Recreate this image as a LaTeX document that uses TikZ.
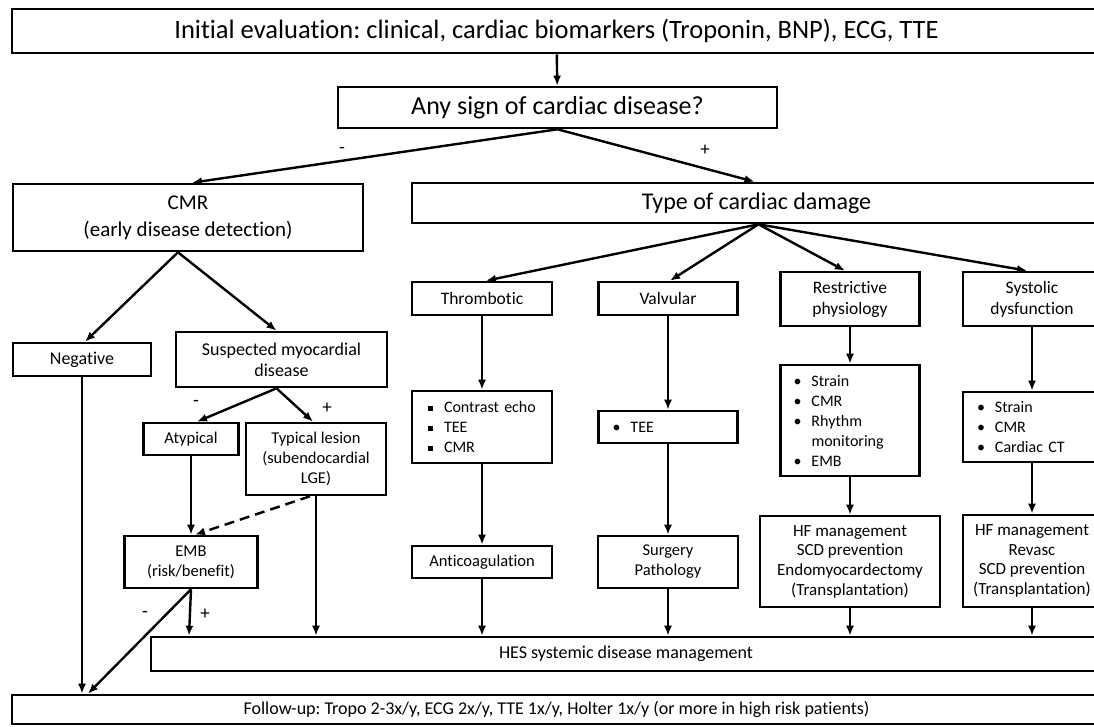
\documentclass[tikz,border=0pt]{standalone}
\usepackage{fontspec}
\setmainfont{Carlito}[Ligatures=NoCommon]
\usetikzlibrary{calc,arrows.meta}
\frenchspacing

\newcommand{\fsz}[2]{\fontsize{#1}{#2}\selectfont}
\newcommand{\blt}{\makebox[18pt][l]{\textbullet}}
\newcommand{\sqb}{\makebox[16pt][l]{\rule[2pt]{4.5pt}{4.5pt}}}

\begin{document}
\begin{tikzpicture}[x=1pt,y=-1pt,>={Latex[length=10pt,width=8pt]},
  box/.style={draw,line width=2.6pt,align=center,inner sep=0pt},
  list/.style={box,align=left,inner xsep=14pt},
  link/.style={->,line width=2.4pt},
  sign/.style={font=\fsz{19}{20}}]
  \useasboundingbox (0,0) rectangle (1094,727);
  % top of the chart
  \node[box,minimum width=1089,minimum height=44,font=\fsz{26.5}{28}] (init) at (556.5,31) {Initial evaluation: clinical, cardiac biomarkers (Troponin, BNP), ECG, TTE};
  \node[box,minimum width=439,minimum height=41,font=\fsz{26}{28}] (anysign) at (557.5,107.5) {Any sign of cardiac disease?};
  \node[box,minimum width=350,minimum height=67,font=\fsz{21}{27}] (cmr) at (188,217.5) {CMR\\(early disease detection)};
  \node[box,minimum width=689,minimum height=40,font=\fsz{24}{28}] (type) at (756.5,203) {Type of cardiac damage};
  % left branch
  \node[box,minimum width=138,minimum height=33,font=\fsz{18}{21}] (neg) at (82,359.5) {Negative};
  \node[box,minimum width=211,minimum height=55,font=\fsz{18}{21}] (susp) at (281.5,359.5) {Suspected myocardial\\disease};
  \node[box,minimum width=95,minimum height=32,font=\fsz{16.5}{20}] (atyp) at (191,439) {Atypical};
  \node[box,minimum width=140,minimum height=72,font=\fsz{16.5}{20}] (typ) at (316,459) {Typical lesion\\(subendocardial\\LGE)};
  \node[box,minimum width=133,minimum height=52,font=\fsz{16.5}{20}] (emb) at (191,562) {EMB\\(risk/benefit)};
  % type of damage
  \node[box,minimum width=140,minimum height=33,font=\fsz{17.5}{21}] (thromb) at (482,298.5) {Thrombotic};
  \node[box,minimum width=139,minimum height=33,font=\fsz{17.5}{21}] (valv) at (668,298.5) {Valvular};
  \node[box,minimum width=139,minimum height=54,font=\fsz{17.5}{21}] (restr) at (850,299) {Restrictive\\physiology};
  \node[box,minimum width=138,minimum height=54,font=\fsz{17.5}{21}] (syst) at (1032,299) {Systolic\\dysfunction};
  % work-up
  \node[list,inner xsep=16pt,text width=108,minimum height=72,font=\fsz{16}{20}] (tlist) at (482,427) {\sqb Contrast echo\\\sqb TEE\\\sqb CMR};
  \node[list,text width=111,minimum height=32,font=\fsz{16}{20}] (vlist) at (668,427) {\blt TEE};
  \node[list,inner xsep=13pt,text width=113,minimum height=111,font=\fsz{16}{20}] (rlist) at (850,420.5) {\blt Strain\\\blt CMR\\\blt Rhythm\\\makebox[18pt]{}monitoring\\\blt EMB};
  \node[list,text width=110,minimum height=70,font=\fsz{16}{20}] (slist) at (1032,427) {\blt Strain\\\blt CMR\\\blt Cardiac CT};
  % treatment
  \node[box,minimum width=140,minimum height=32,font=\fsz{16.5}{20}] (anticoag) at (482,562) {Anticoagulation};
  \node[box,minimum width=140,minimum height=52,font=\fsz{16.5}{20}] (surg) at (668,562) {Surgery\\Pathology};
  \node[box,minimum width=180,minimum height=91,font=\fsz{17}{19.7}] (rmgmt) at (850,561.5) {HF management\\SCD prevention\\Endomyocardectomy\\(Transplantation)};
  \node[box,minimum width=138,minimum height=92,font=\fsz{17}{19.7}] (smgmt) at (1032,561) {HF management\\Revasc\\SCD prevention\\(Transplantation)};
  % bottom
  \node[box,minimum width=950,minimum height=34,font=\fsz{18}{20}] (hes) at (626,654) {HES systemic disease management};
  \node[box,minimum width=1089,minimum height=29,font=\fsz{18}{20}] (follow) at (556.5,709.5) {Follow-up: Tropo 2-3x/y, ECG 2x/y, TTE 1x/y, Holter 1x/y (or more in high risk patients)};

  \draw[link] (init) -- (anysign);
  \draw[link] (anysign.south) -- ([xshift=4pt]cmr.north);
  \draw[link] (anysign.south) -- ([xshift=-2pt]type.north);
  \node[sign] (m1) at (342,150) {-};
  \node[sign] (p1) at (705,150) {+};
  \draw[link] ([xshift=-10pt]cmr.south) -- ([xshift=3pt]neg.north);
  \draw[link] ([xshift=-10pt]cmr.south) -- ([xshift=-5pt]susp.north);
  \draw[link] ([xshift=-5pt]susp.south) -- ([xshift=6pt]atyp.north);
  \draw[link] ([xshift=-5pt]susp.south) -- ([xshift=-3pt]typ.north);
  \node[sign] (m2) at (196,403) {-};
  \node[sign] (p2) at (327,408) {+};
  \draw[link] (atyp) -- (emb);
  \draw[link,dashed,dash pattern=on 10pt off 6pt] ([xshift=-6pt]typ.south) -- ([xshift=4pt]emb.north);
  \draw[link] (typ.south) -- (typ.south |- hes.north);
  \draw[link] (emb.south) -- ([xshift=-2pt]emb.south |- hes.north);
  \draw[link] (emb.south) -- ($(neg.south |- follow.north)+(6,0)$);
  \node[sign] (m3) at (145,614) {-};
  \node[sign] (p3) at (205,614) {+};
  \draw[link] (neg) -- (neg |- follow.north);
  \draw[link] ([xshift=2pt]type.south) -- ([xshift=4pt]thromb.north);
  \draw[link] ([xshift=2pt]type.south) -- ([xshift=2pt]valv.north);
  \draw[link] ([xshift=2pt]type.south) -- ([xshift=-5pt]restr.north);
  \draw[link] ([xshift=2pt]type.south) -- ([xshift=-5pt]syst.north);
  \draw[link] (thromb) -- (tlist);
  \draw[link] (tlist) -- (anticoag);
  \draw[link] (anticoag) -- (anticoag |- hes.north);
  \draw[link] (valv) -- (vlist);
  \draw[link] (vlist) -- (surg);
  \draw[link] (surg) -- (surg |- hes.north);
  \draw[link] (restr) -- (rlist);
  \draw[link] (rlist) -- (rmgmt);
  \draw[link] (rmgmt) -- (rmgmt |- hes.north);
  \draw[link] (syst) -- (slist);
  \draw[link] (slist) -- (smgmt);
  \draw[link] (smgmt) -- (smgmt |- hes.north);
\end{tikzpicture}
\end{document}
